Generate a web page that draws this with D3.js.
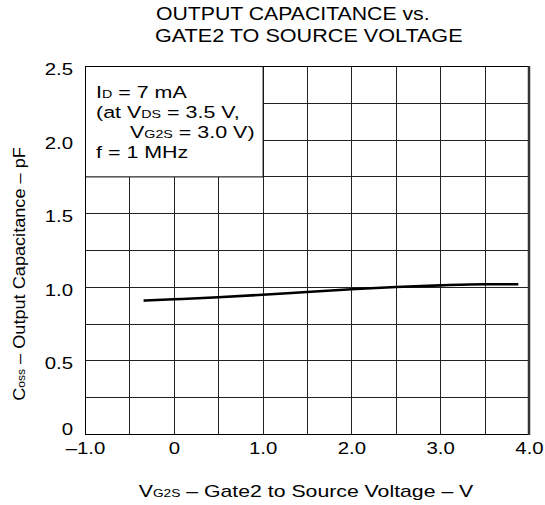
<!DOCTYPE html>
<html>
<head>
<meta charset="utf-8">
<script src="https://cdn.jsdelivr.net/npm/d3@7"></script>
<style>
  html, body { margin: 0; padding: 0; background: #fff; }
  svg { display: block; }
  text { font-family: "Liberation Sans", Arial, sans-serif; fill: #000; }
</style>
</head>
<body>
<svg id="chart" width="545" height="505"></svg>
<script>
// ---- data ----
const vg2s = [-0.34, 0.0, 0.5, 1.0, 1.5, 2.0, 2.5, 3.0, 3.5, 3.88];
const coss = [0.906, 0.915, 0.929, 0.946, 0.965, 0.983, 0.999, 1.010, 1.017, 1.017];
const xTicks = [-1, 0, 1, 2, 3, 4];
const xTickLabels = ["\u20131.0", "0", "1.0", "2.0", "3.0", "4.0"];
const yTicks = [0, 0.5, 1.0, 1.5, 2.0, 2.5];
const yTickLabels = ["0", "0.5", "1.0", "1.5", "2.0", "2.5"];
const xGrid = [-0.5, 0, 0.5, 1, 1.5, 2, 2.5, 3, 3.5];
const yGrid = [0.25, 0.5, 0.75, 1.0, 1.25, 1.5, 1.75, 2.0, 2.25];
const titleLines = ["OUTPUT CAPACITANCE vs.", "GATE2 TO SOURCE VOLTAGE"];
const legendBox = { x0: -1, x1: 1.0, y0: 1.75, y1: 2.5 };

const SX = 1.2; // horizontal stretch of the original lettering
const svg = d3.select("#chart");
const pL = 85, pR = 529, pT = 66, pB = 434;
const x = d3.scaleLinear().domain([-1, 4]).range([pL, pR]);
const y = d3.scaleLinear().domain([0, 2.5]).range([pB, pT]);

// grid
svg.append("g").selectAll("line").data(xGrid).join("line")
  .attr("x1", d => Math.round(x(d)) + 0.5).attr("x2", d => Math.round(x(d)) + 0.5)
  .attr("y1", pT).attr("y2", pB)
  .attr("stroke", "#222").attr("stroke-width", 1);
svg.append("g").selectAll("line").data(yGrid).join("line")
  .attr("y1", d => Math.round(y(d)) + 0.5).attr("y2", d => Math.round(y(d)) + 0.5)
  .attr("x1", pL).attr("x2", pR)
  .attr("stroke", "#222").attr("stroke-width", 1);

// legend box (covers grid)
svg.append("rect")
  .attr("x", x(legendBox.x0) + 0.5).attr("y", y(legendBox.y1) + 0.5)
  .attr("width", x(legendBox.x1) - x(legendBox.x0))
  .attr("height", y(legendBox.y0) - y(legendBox.y1))
  .attr("fill", "#fff").attr("stroke", "#000").attr("stroke-width", 1);

// frame
svg.append("line").attr("x1", pL + 0.5).attr("x2", pL + 0.5).attr("y1", pT).attr("y2", pB + 1).attr("stroke", "#000");
svg.append("line").attr("x1", pL).attr("x2", pR + 1).attr("y1", pB + 0.5).attr("y2", pB + 0.5).attr("stroke", "#000");
svg.append("line").attr("x1", pL).attr("x2", pR + 1).attr("y1", pT + 0.5).attr("y2", pT + 0.5).attr("stroke", "#000");
svg.append("line").attr("x1", pR).attr("x2", pR).attr("y1", pT).attr("y2", pB + 1).attr("stroke", "#333").attr("stroke-width", 2.5);

// axes (ticks hidden, labels only)
const xAxis = svg.append("g").attr("transform", `translate(0,${pB})`)
  .call(d3.axisBottom(x).tickValues(xTicks).tickFormat((d, i) => xTickLabels[i]).tickSize(0).tickPadding(8));
xAxis.select(".domain").remove();
xAxis.selectAll("text").attr("font-size", 17).attr("font-family", null).attr("fill", "#000")
  .attr("transform", `scale(${SX},1)`);

const yAxis = svg.append("g").attr("transform", `translate(${pL},0)`)
  .call(d3.axisLeft(y).tickValues(yTicks).tickFormat((d, i) => yTickLabels[i]).tickSize(0).tickPadding(0));
yAxis.select(".domain").remove();
yAxis.selectAll("text").attr("font-size", 17).attr("font-family", null).attr("fill", "#000")
  .attr("x", -12 / SX).attr("dy", d => d === 0 ? "0.0em" : "0.5em")
  .attr("transform", `scale(${SX},1)`);

// curve
svg.append("path").datum(vg2s.map((v, i) => [v, coss[i]]))
  .attr("d", d3.line().x(d => x(d[0])).y(d => y(d[1])).curve(d3.curveMonotoneX))
  .attr("fill", "none").attr("stroke", "#000").attr("stroke-width", 2.6).attr("stroke-linecap", "butt");

// helper: stretched text with optional subscript parts
function label(px, py, parts, opts = {}) {
  const sx = opts.sx || SX;
  const g = svg.append("g").attr("transform",
    `translate(${px},${py})` + (opts.rotate ? ` rotate(${opts.rotate})` : "") + ` scale(${sx},1)`);
  const t = g.append("text").attr("font-size", opts.size || 16)
    .attr("text-anchor", opts.anchor || "start");
  parts.forEach(p => {
    if (typeof p === "string") t.append("tspan").text(p);
    else t.append("tspan").attr("font-size", p.size || 11).text(p.sub);
  });
  return t;
}

// title
label(156, 20, [titleLines[0]], { size: 18, sx: 1.18 });
label(155, 41.5, [titleLines[1]], { size: 18, sx: 1.2 });

// legend text
const lg = { size: 16.5, sx: 1.3 };
label(96, 98, ["I", { sub: "D" }, " = 7 mA"], lg);
label(96, 118, ["(at V", { sub: "DS" }, " = 3.5 V,"], lg);
label(130, 138, ["V", { sub: "G2S" }, " = 3.0 V)"], lg);
label(96, 158, ["f = 1 MHz"], lg);

// axis titles
label(306, 497, ["V", { sub: "G2S" }, " \u2013 Gate2 to Source Voltage \u2013 V"], { size: 17, sx: 1.25, anchor: "middle" });
label(25, 274, ["C", { sub: "oss" }, " \u2013 Output Capacitance \u2013 pF"], { size: 16.5, sx: 1.1, anchor: "middle", rotate: -90 });
</script>
</body>
</html>
